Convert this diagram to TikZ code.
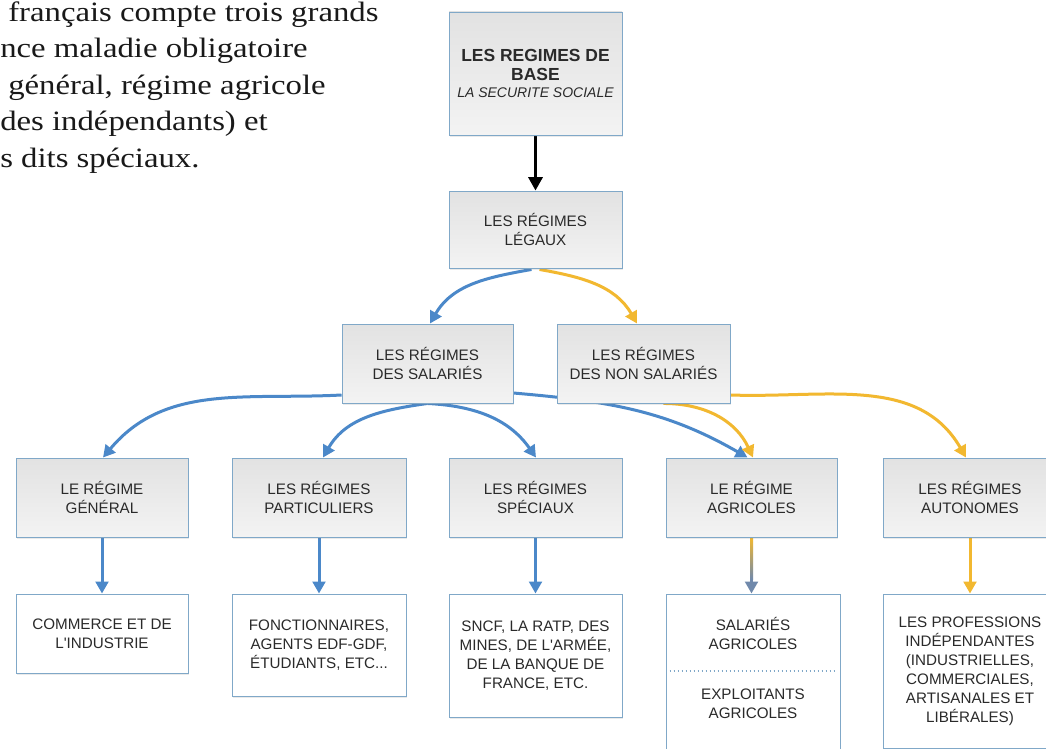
\documentclass[tikz,border=0pt]{standalone}
\usepackage{fontspec}
\newfontfamily\arialf{Liberation Sans}
\newfontfamily\parafont[FakeStretch=1.17]{Liberation Serif}
\usetikzlibrary{arrows.meta,shadows,calc}
\definecolor{blu}{HTML}{4B88C9}
\definecolor{yel}{HTML}{F2B830}
\definecolor{edgec}{HTML}{80A8C8}
\definecolor{boxtop}{HTML}{E2E2E2}
\definecolor{boxbot}{HTML}{F3F3F3}
\definecolor{txt}{HTML}{2A2A2A}
\definecolor{agrigray}{HTML}{7089AB}
\pgfdeclarelayer{back}
\pgfdeclarelayer{bg}
\pgfsetlayers{back,bg,main}
\newcommand\boxfont{\arialf\fontsize{11.4}{14.25}\selectfont}
\begin{document}
\begin{tikzpicture}[x=0.75pt,y=0.75pt,
  box/.style={draw=edgec, line width=0.7pt, top color=boxtop, bottom color=boxbot,
    align=center, inner sep=0pt, font=\boxfont, text=txt,
    drop shadow={shadow xshift=1pt, shadow yshift=-1.2pt, opacity=0.16}},
  wbox/.style={box, top color=white, bottom color=white},
  para/.style={inner sep=0pt, anchor=base west, font=\parafont\fontsize{21}{25}\selectfont, text=black!90},
  conn/.style={line width=2.25pt, -{Triangle[width=9.5pt,length=9pt]}},
  bl/.style={conn, draw=blu},
  yl/.style={conn, draw=yel},
]
\useasboundingbox (0,0) rectangle (1046,-749);
\begin{pgfonlayer}{back}
  \fill[white] (0,0) rectangle (1046,-749);
\end{pgfonlayer}
\clip (0,0) rectangle (1046,-749);

% paragraph fragment
\node[para] (p1) at (8,-22) {français compte trois grands};
\node[para] (p2) at (0,-58) {nce maladie obligatoire};
\node[para] (p3) at (8,-94.5) {général, régime agricole};
\node[para] (p4) at (0,-130.5) {des indépendants) et};
\node[para] (p5) at (0,-167) {s dits spéciaux.};

% level boxes
\node[box, minimum width=173*0.75pt, minimum height=123*0.75pt] (base) at (535.5,-73.5)
  {\bfseries\fontsize{13.1}{15.75}\selectfont LES REGIMES DE\\\bfseries\fontsize{13.1}{15.75}\selectfont BASE\\[-1pt]
   \mdseries\itshape\fontsize{10.5}{12.75}\selectfont LA SECURITE SOCIALE};
\node[box, minimum width=173*0.75pt, minimum height=77*0.75pt] (legaux) at (535.5,-229.5)
  {LES RÉGIMES\\LÉGAUX};
\node[box, minimum width=171*0.75pt, minimum height=79*0.75pt] (sal) at (427.5,-363.5)
  {LES RÉGIMES\\DES SALARIÉS};
\node[box, minimum width=173*0.75pt, minimum height=79*0.75pt] (nonsal) at (643.5,-363.5)
  {LES RÉGIMES\\DES NON SALARIÉS};

\node[box, minimum width=172*0.75pt, minimum height=79*0.75pt] (gen) at (102,-497.5)
  {LE RÉGIME\\GÉNÉRAL};
\node[box, minimum width=174*0.75pt, minimum height=79*0.75pt] (part) at (319,-497.5)
  {LES RÉGIMES\\PARTICULIERS};
\node[box, minimum width=173*0.75pt, minimum height=79*0.75pt] (spec) at (535.5,-497.5)
  {LES RÉGIMES\\SPÉCIAUX};
\node[box, minimum width=171*0.75pt, minimum height=79*0.75pt] (agri) at (751.5,-497.5)
  {LE RÉGIME\\AGRICOLES};
\node[box, minimum width=174*0.75pt, minimum height=79*0.75pt] (auto) at (970,-497.5)
  {LES RÉGIMES\\AUTONOMES};

\node[wbox, minimum width=172*0.75pt, minimum height=79*0.75pt] (com) at (102,-633.5)
  {COMMERCE ET DE\\L'INDUSTRIE};
\node[wbox, minimum width=174*0.75pt, minimum height=102*0.75pt] (fonc) at (319,-645)
  {FONCTIONNAIRES,\\AGENTS EDF-GDF,\\ÉTUDIANTS, ETC...};
\node[wbox, minimum width=173*0.75pt, minimum height=123*0.75pt] (sncf) at (535.5,-655.5)
  {SNCF, LA RATP, DES\\MINES, DE L'ARMÉE,\\DE LA BANQUE DE\\FRANCE, ETC.};
\node[wbox, minimum width=174*0.75pt, minimum height=166*0.75pt] (agril) at (753,-677) {};
\node[inner sep=0pt, align=center, font=\boxfont, text=txt] (agla) at (753,-633.5) {SALARIÉS\\AGRICOLES};
\node[inner sep=0pt, align=center, font=\boxfont, text=txt] (aglb) at (753,-703.5) {EXPLOITANTS\\AGRICOLES};
\draw[edgec, line width=1pt, dotted] ($(agril.west)+(4,6)$) -- ($(agril.east)+(-5,6)$);
\node[wbox, minimum width=174*0.75pt, minimum height=154*0.75pt] (prof) at (970,-671)
  {LES PROFESSIONS\\INDÉPENDANTES\\(INDUSTRIELLES,\\COMMERCIALES,\\ARTISANALES ET\\LIBÉRALES)};

% connectors
\begin{pgfonlayer}{bg}
  \draw[conn, draw=black, -{Triangle[width=10.5pt,length=10pt]}] (base.south) -- (legaux.north);
  \draw[bl] ($(legaux.south)+(-4,-1)$) to[out=190,in=60] ($(sal.north)+(2.5,0)$);
  \draw[yl] ($(legaux.south)+(4,-1)$) to[out=-10,in=120] ($(nonsal.north)+(-6.5,0)$);
  \draw[bl] ($(sal.west)+(0,-31.5)$) to[out=183,in=50] ($(gen.north)+(1,0)$);
  \draw[bl] (sal.south) to[out=188,in=60] ($(part.north)+(4,0)$);
  \draw[bl] (sal.south) to[out=-3,in=125] ($(spec.north)+(0.5,0)$);
  \draw[bl] ($(sal.east)+(0,-29.5)$) to[out=-5,in=150] ($(agri.north)+(-4,0)$);
  \draw[yl] ($(nonsal.south)+(20,0)$) to[out=0,in=115] ($(agri.north)+(1.5,0)$);
  \draw[yl] ($(nonsal.east)+(0,-31.5)$) to[out=-2,in=120] ($(auto.north)+(-4,0)$);
  \draw[bl] (gen.south) -- (com.north);
  \draw[bl] (part.south) -- (fonc.north);
  \draw[bl] (spec.south) -- (sncf.north);
  \draw[conn, draw=agrigray] (agri.south) -- (agri.south |- agril.north);
  \shade[top color=yel, bottom color=agrigray] ($(agri.south)+(-1.5,0)$) rectangle ($(agri.south)+(1.5,-42)$);
  \draw[yl] (auto.south) -- (prof.north);
\end{pgfonlayer}
\end{tikzpicture}
\end{document}
